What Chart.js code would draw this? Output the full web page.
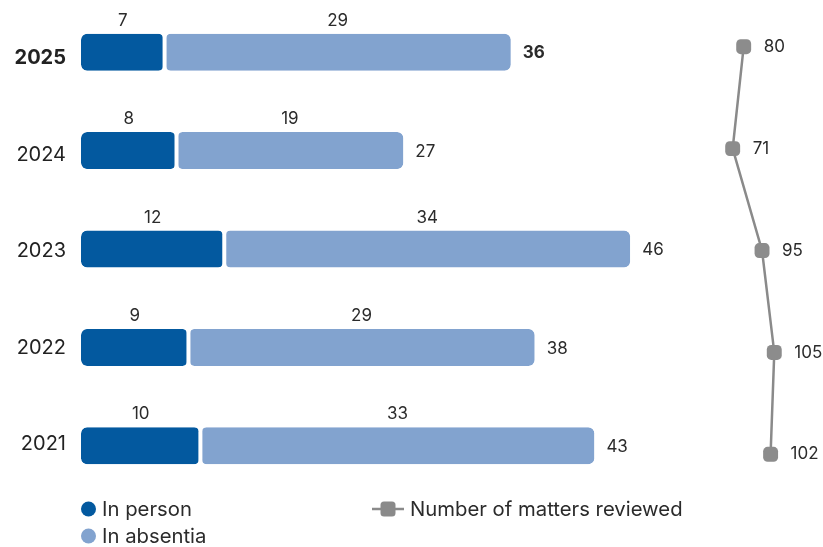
<!DOCTYPE html>
<html>
<head>
<meta charset="utf-8">
<script src="https://cdn.jsdelivr.net/npm/chart.js@4/dist/chart.umd.min.js"></script>
<style>
  html, body { margin: 0; padding: 0; background: #fff; }
  #wrap { width: 823px; height: 547px; }
</style>
</head>
<body>
<div id="wrap"><canvas id="c" width="823" height="547"></canvas></div>
<script>
// Review activity by year
const years = ['2025', '2024', '2023', '2022', '2021'];
const inPerson = [7, 8, 12, 9, 10];
const inAbsentia = [29, 19, 34, 29, 33];
const mattersReviewed = [80, 71, 95, 105, 102];

const seriesNames = ['In person', 'In absentia', 'Number of matters reviewed'];

const DARK = '#03599f';
const LIGHT = '#82a3cf';
const GREY = '#8a8a8a';
const TEXT = '#2b2b2b';
const FONT = 'Inter, "DejaVu Sans", sans-serif';

const radius = { topLeft: 6, topRight: 6, bottomLeft: 6, bottomRight: 6 };

function rrect(ctx, x, y, w, h, r) {
  ctx.beginPath();
  ctx.moveTo(x + r, y);
  ctx.lineTo(x + w - r, y);
  ctx.quadraticCurveTo(x + w, y, x + w, y + r);
  ctx.lineTo(x + w, y + h - r);
  ctx.quadraticCurveTo(x + w, y + h, x + w - r, y + h);
  ctx.lineTo(x + r, y + h);
  ctx.quadraticCurveTo(x, y + h, x, y + h - r);
  ctx.lineTo(x, y + r);
  ctx.quadraticCurveTo(x, y, x + r, y);
  ctx.closePath();
}

// Segment values above bars, totals at bar ends, counts beside line markers
const valueLabels = {
  id: 'valueLabels',
  afterDatasetsDraw(chart) {
    const ctx = chart.ctx;
    const metas = [chart.getDatasetMeta(0), chart.getDatasetMeta(1)];
    ctx.save();
    ctx.fillStyle = TEXT;
    ctx.textBaseline = 'middle';
    ctx.textAlign = 'center';
    ctx.font = '400 17px ' + FONT;
    metas.forEach((meta, di) => {
      const vals = chart.data.datasets[di].data;
      meta.data.forEach((bar, i) => {
        const h = bar.height || 37;
        ctx.fillText(String(vals[i]), (bar.x + bar.base) / 2, bar.y - h / 2 - 13);
      });
    });
    ctx.textAlign = 'left';
    metas[1].data.forEach((bar, i) => {
      const total = inPerson[i] + inAbsentia[i];
      ctx.font = (i === 0 ? '700 ' : '400 ') + '17px ' + FONT;
      ctx.fillText(String(total), bar.x + 12, bar.y + 1);
    });
    ctx.font = '400 17px ' + FONT;
    chart.getDatasetMeta(2).data.forEach((pt, i) => {
      ctx.fillText(String(mattersReviewed[i]), pt.x + 20, pt.y);
    });
    ctx.restore();
  }
};

// Legend laid out in two columns under the plot
const legendBlock = {
  id: 'legendBlock',
  afterDraw(chart) {
    const ctx = chart.ctx;
    const ds = chart.data.datasets;
    ctx.save();
    ctx.textBaseline = 'middle';
    ctx.textAlign = 'left';
    ctx.font = '400 20.3px ' + FONT;
    ctx.fillStyle = TEXT;
    const rows = [509, 536];
    [0, 1].forEach(k => {
      ctx.beginPath();
      ctx.fillStyle = ds[k].backgroundColor;
      ctx.arc(88.5, rows[k], 7.5, 0, Math.PI * 2);
      ctx.fill();
      ctx.fillStyle = TEXT;
      ctx.fillText(ds[k].label, 102, rows[k] + 1);
    });
    ctx.strokeStyle = GREY;
    ctx.lineWidth = 2.5;
    ctx.beginPath();
    ctx.moveTo(372, rows[0]);
    ctx.lineTo(404, rows[0]);
    ctx.stroke();
    ctx.fillStyle = GREY;
    rrect(ctx, 380.5, rows[0] - 7.5, 15, 15, 3.5);
    ctx.fill();
    ctx.fillStyle = TEXT;
    ctx.fillText(ds[2].label, 410, rows[0] + 1);
    ctx.restore();
  }
};

const plainLinear = { type: 'linear', offset: false, grace: 0, bounds: 'data', beginAtZero: false };

new Chart(document.getElementById('c'), {
  type: 'bar',
  data: {
    labels: years,
    datasets: [
      {
        label: seriesNames[0],
        data: inPerson,
        grouped: false,
        backgroundColor: DARK,
        borderColor: '#ffffff',
        borderWidth: { top: 0, bottom: 0, left: 0, right: 2 },
        borderSkipped: false,
        borderRadius: radius,
        maxBarThickness: 37,
        xAxisID: 'x',
        yAxisID: 'y',
        order: 2
      },
      {
        label: seriesNames[1],
        data: inAbsentia,
        grouped: false,
        backgroundColor: LIGHT,
        borderColor: '#ffffff',
        borderWidth: { top: 0, bottom: 0, left: 2, right: 0 },
        borderSkipped: false,
        borderRadius: radius,
        maxBarThickness: 37,
        xAxisID: 'x',
        yAxisID: 'y',
        order: 2
      },
      {
        type: 'line',
        label: seriesNames[2],
        indexAxis: 'y',
        data: mattersReviewed.map((v, i) => ({ x: v, y: i })),
        borderColor: GREY,
        borderWidth: 2.5,
        backgroundColor: GREY,
        pointStyle: 'rectRounded',
        pointRadius: 8.7,
        pointBackgroundColor: '#8c8c8c',
        pointBorderWidth: 0,
        tension: 0,
        fill: false,
        clip: false,
        xAxisID: 'x2',
        yAxisID: 'y2',
        order: 1
      }
    ]
  },
  options: {
    indexAxis: 'y',
    responsive: false,
    animation: false,
    devicePixelRatio: 1,
    layout: { autoPadding: false, padding: { top: 3, right: 13, bottom: 52, left: 0 } },
    plugins: {
      legend: { display: false },
      tooltip: { enabled: false }
    },
    scales: {
      x: { ...plainLinear, axis: 'x', position: 'bottom', display: false, stacked: true, min: 0, max: 61.06 },
      y: { type: 'category', axis: 'y', position: 'left', display: false, stacked: true, offset: true },
      x2: { ...plainLinear, axis: 'x', position: 'bottom', display: false, min: -461.6, max: 134.2 },
      y2: { ...plainLinear, axis: 'y', position: 'left', display: false, reverse: true, min: -0.429, max: 4.399 },
      yl: {
        ...plainLinear,
        axis: 'y',
        position: 'left',
        reverse: true,
        min: -0.569,
        max: 4.524,
        grid: { display: false, drawTicks: false, offset: false },
        border: { display: false },
        afterBuildTicks(scale) {
          scale.ticks = years.map((_, i) => ({ value: i }));
        },
        afterFit(scale) {
          scale.width = 81;
          scale.paddingTop = 0;
          scale.paddingBottom = 0;
        },
        ticks: {
          padding: 15,
          color: '#222222',
          font: ctx => ({ family: FONT, size: 20, weight: ctx.index === 0 ? '700' : '400' }),
          callback: v => years[v]
        }
      }
    }
  },
  plugins: [valueLabels, legendBlock]
});
</script>
</body>
</html>
